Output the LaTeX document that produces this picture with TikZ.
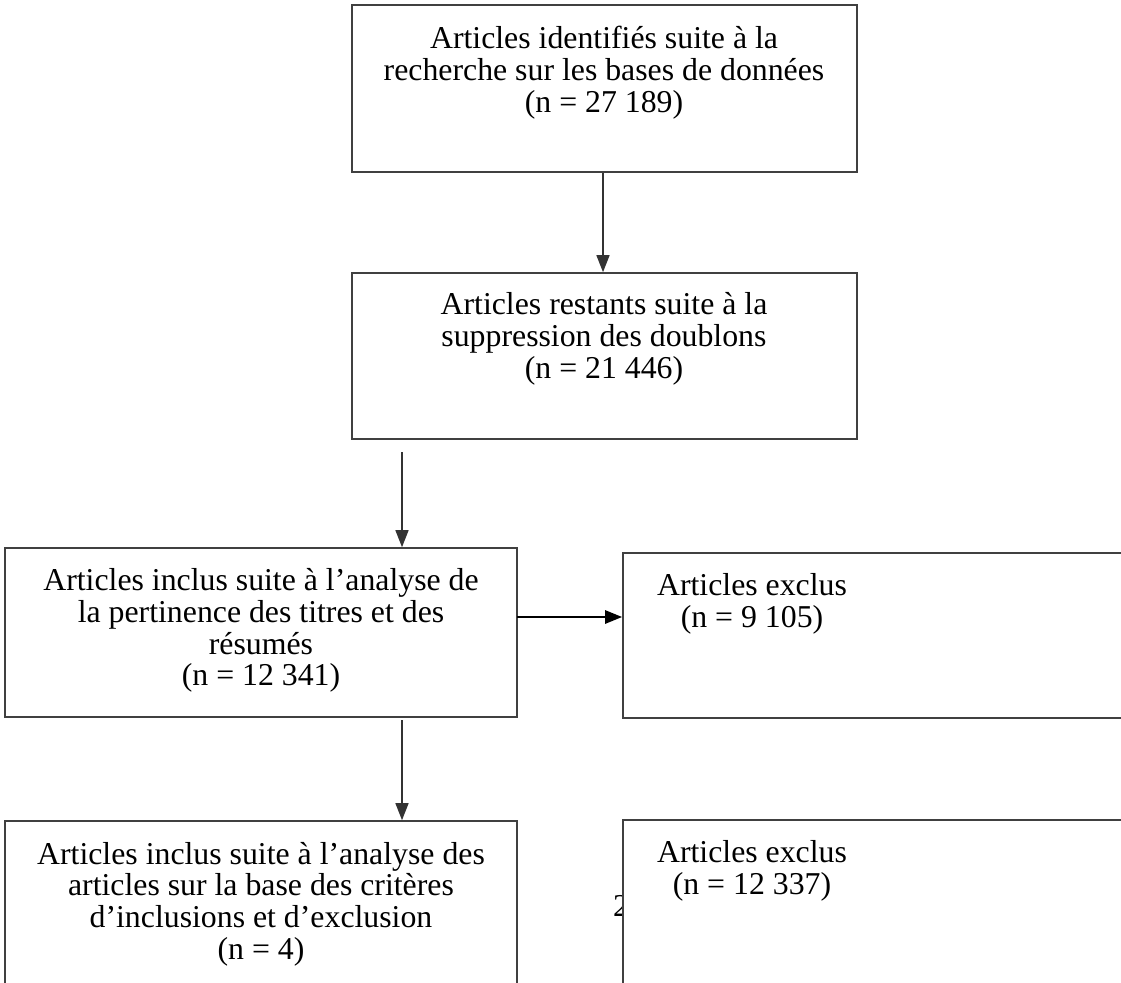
\documentclass[tikz,border=0pt]{standalone}
\usepackage{fontspec}
\setmainfont{Liberation Serif}
\usepackage{tikz}
\usetikzlibrary{shapes,arrows,arrows.meta,positioning,calc}

\tikzset{
  boite/.style={draw=black!75, line width=1.6pt, fill=white, minimum width=#1, inner sep=0pt},
  texte/.style={align=center, font=\fontsize{31.8}{31.7}\selectfont, inner sep=0pt},
  fleche/.style={draw=black!80, line width=1.4pt, -{Triangle[length=17pt,width=13pt]}},
}

\begin{document}
\begin{tikzpicture}[x=1pt,y=-1pt]
\useasboundingbox (0,0) rectangle (1121,982);
\clip (0,0) rectangle (1121,982);
% boites
\node[boite=505pt, minimum height=167pt] (b1) at (604.5,88.5) {};
\node[boite=505pt, minimum height=166pt] (b2) at (604.5,356) {};
\node[boite=512pt, minimum height=169pt] (b3) at (261,632.5) {};
\node[boite=507pt, minimum height=165pt] (b4) at (876.5,635.5) {};
\node[texte] (num) at (621,906) {2};
\node[boite=512pt, minimum height=179pt] (b5) at (261,910.5) {};
\node[boite=507pt, minimum height=180pt] (b6) at (876.5,910) {};
% textes
\node[texte] (t1) at (604,72.5) {Articles identifiés suite à la\\recherche sur les bases de données\\(n = 27 189)};
\node[texte] (t2) at (604,339) {Articles restants suite à la\\suppression des doublons\\(n = 21 446)};
\node[texte] (t3) at (261,630.5) {Articles inclus suite à l’analyse de\\la pertinence des titres et des\\résumés\\(n = 12 341)};
\node[texte] (t4) at (752,604) {Articles exclus\\(n = 9 105)};
\node[texte] (t5) at (261,904) {Articles inclus suite à l’analyse des\\articles sur la base des critères\\d’inclusions et d’exclusion\\(n = 4)};
\node[texte] (t6) at (752,871) {Articles exclus\\(n = 12 337)};
% fleches
\coordinate (c2) at (402,452);
\coordinate (c3) at (402,720);
\coordinate (ch) at (517,617);
\draw[fleche] (b1.south -| 603,0) -- (b2.north -| 603,0);
\draw[fleche] (c2) -- (c2 |- b3.north);
\draw[fleche] (c3) -- (c3 |- b5.north);
\draw[fleche, draw=black, line width=2.6pt] (ch) -- (ch -| b4.west);
\end{tikzpicture}
\end{document}
